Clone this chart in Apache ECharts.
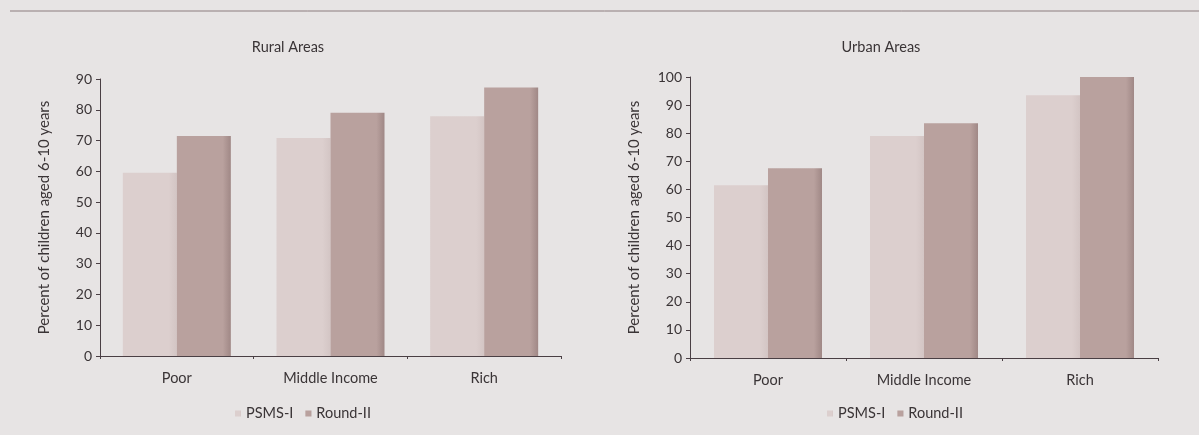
<!DOCTYPE html>
<html>
<head>
<meta charset="utf-8">
<script src="https://cdn.jsdelivr.net/npm/echarts@6/dist/echarts.min.js"></script>
<style>
  html, body { margin: 0; padding: 0; background: #e7e4e4; }
  #chart { width: 1199px; height: 435px; }
</style>
</head>
<body>
<div id="chart"></div>
<script>
// Income groups on the x axis
const categories = ['Poor', 'Middle Income', 'Rich'];
const seriesNames = ['PSMS-I', 'Round-II'];

// Percent of children aged 6-10 years, rural areas
const ruralPSMS = [59.5, 70.8, 77.9];
const ruralRound2 = [71.5, 79, 87.2];

// Percent of children aged 6-10 years, urban areas
const urbanPSMS = [61.5, 79, 93.5];
const urbanRound2 = [67.5, 83.5, 100];

const panelTitles = ['Rural Areas', 'Urban Areas'];
const yAxisName = 'Percent of children aged 6-10 years';

const FONT = 'Lato, "Open Sans", sans-serif';
const TEXT = '#3a3436';
const AXIS = '#4a3f44';
const LIGHT = '#dccfce';
const DARK = '#b9a19e';

function barFill(base, edge) {
  return new echarts.graphic.LinearGradient(0, 0, 1, 0, [
    { offset: 0, color: base },
    { offset: 0.85, color: base },
    { offset: 1, color: edge }
  ]);
}

function yAxis(gridIndex, max) {
  return {
    type: 'value', gridIndex, min: 0, max, interval: 10,
    name: yAxisName, nameLocation: 'middle', nameGap: 48, nameRotate: 90,
    nameTextStyle: { color: TEXT, fontFamily: FONT, fontSize: 15 },
    axisLine: { show: true, lineStyle: { color: AXIS, width: 1 } },
    axisTick: { show: true, length: 4, lineStyle: { color: AXIS } },
    axisLabel: { color: TEXT, fontFamily: FONT, fontSize: 14, margin: 8 },
    splitLine: { show: false }
  };
}

function xAxis(gridIndex) {
  return {
    type: 'category', gridIndex, data: categories,
    axisLine: { show: true, lineStyle: { color: AXIS, width: 1 } },
    axisTick: { show: true, length: 3, lineStyle: { color: AXIS } },
    axisLabel: { color: TEXT, fontFamily: FONT, fontSize: 14.5, margin: 15 }
  };
}

function bars(name, data, i, color, edge) {
  return {
    type: 'bar', name, data, xAxisIndex: i, yAxisIndex: i,
    barWidth: 54, barGap: '0%',
    itemStyle: { color: barFill(color, edge) }
  };
}

const chart = echarts.init(document.getElementById('chart'), null, { renderer: 'canvas' });
chart.setOption({
  backgroundColor: '#e7e4e4',
  animation: false,
  title: [
    { text: panelTitles[0], left: 283, top: 35, textAlign: 'center',
      textStyle: { color: TEXT, fontFamily: FONT, fontSize: 14.5, fontWeight: 'normal' } },
    { text: panelTitles[1], left: 876, top: 35, textAlign: 'center',
      textStyle: { color: TEXT, fontFamily: FONT, fontSize: 14.5, fontWeight: 'normal' } }
  ],
  legend: [
    { data: seriesNames, left: 230, top: 401, itemWidth: 6, itemHeight: 6, itemGap: 12,
      icon: 'rect', textStyle: { color: TEXT, fontFamily: FONT, fontSize: 14.5 } },
    { data: seriesNames, left: 822, top: 401, itemWidth: 6, itemHeight: 6, itemGap: 12,
      icon: 'rect', textStyle: { color: TEXT, fontFamily: FONT, fontSize: 14.5 } }
  ],
  grid: [
    { left: 100, width: 461, top: 79, bottom: 79 },
    { left: 690, width: 468, top: 77, bottom: 77 }
  ],
  xAxis: [xAxis(0), xAxis(1)],
  yAxis: [yAxis(0, 90), yAxis(1, 100)],
  series: [
    bars(seriesNames[0], ruralPSMS, 0, LIGHT, '#d3c5c4'),
    bars(seriesNames[1], ruralRound2, 0, DARK, '#a08886'),
    bars(seriesNames[0], urbanPSMS, 1, LIGHT, '#d3c5c4'),
    bars(seriesNames[1], urbanRound2, 1, DARK, '#a08886')
  ],
  graphic: [
    { type: 'line', shape: { x1: 10, y1: 11, x2: 1199, y2: 11 },
      style: { stroke: '#8c7c7e', lineWidth: 1 } }
  ]
});
</script>
</body>
</html>
